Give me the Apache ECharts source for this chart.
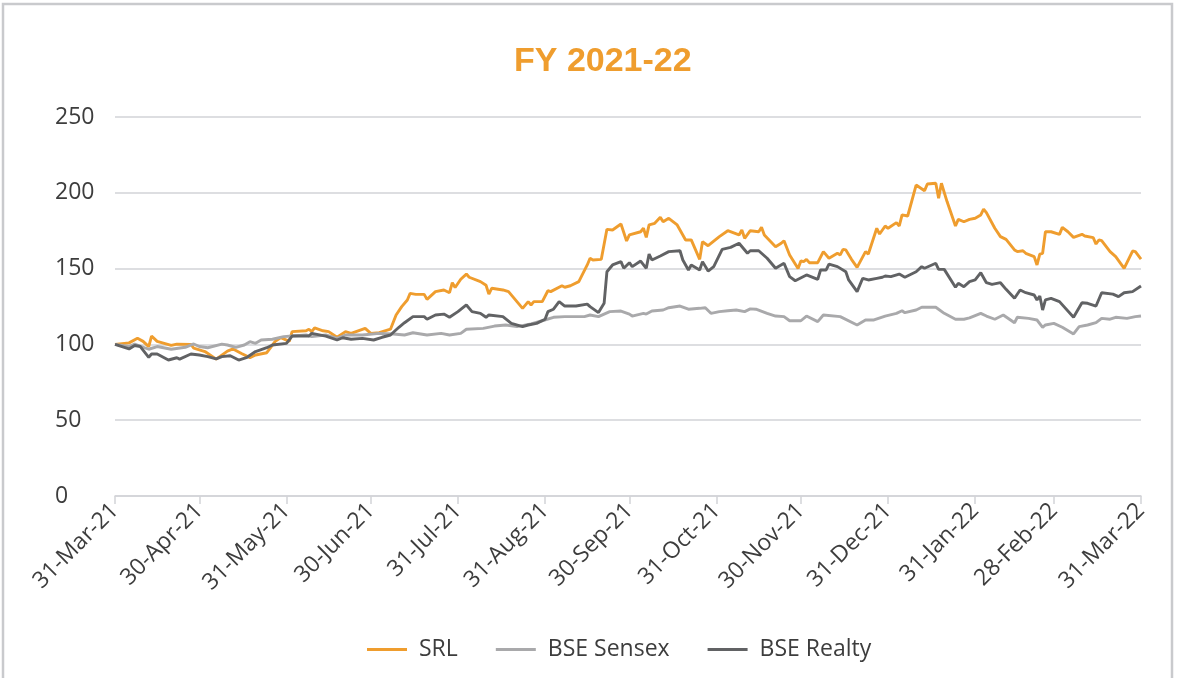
<!DOCTYPE html>
<html>
<head>
<meta charset="utf-8">
<script src="https://cdn.jsdelivr.net/npm/echarts@6/dist/echarts.min.js"></script>
<style>
html,body{margin:0;padding:0;background:#fff;}
#chart{width:1184px;height:678px;}
</style>
</head>
<body>
<div id="chart"></div>
<script>
// ---- Data ----
const titleText = 'FY 2021-22';
const seriesNames = ['SRL', 'BSE Sensex', 'BSE Realty'];
const tickDates = ['2021-03-31','2021-04-30','2021-05-31','2021-06-30','2021-07-31','2021-08-31','2021-09-30','2021-10-31','2021-11-30','2021-12-31','2022-01-31','2022-02-28','2022-03-31'];
const yTicks = [0, 50, 100, 150, 200, 250];

const srlDates = ['2021-03-31','2021-04-05','2021-04-08','2021-04-10','2021-04-12','2021-04-13','2021-04-15','2021-04-20','2021-04-22','2021-04-27','2021-04-28','2021-05-02','2021-05-06','2021-05-10','2021-05-12','2021-05-15','2021-05-18','2021-05-20','2021-05-24','2021-05-27','2021-05-29','2021-06-01','2021-06-02','2021-06-07','2021-06-08','2021-06-09','2021-06-10','2021-06-13','2021-06-15','2021-06-18','2021-06-21','2021-06-23','2021-06-28','2021-06-30','2021-07-03','2021-07-07','2021-07-09','2021-07-11','2021-07-13','2021-07-14','2021-07-16','2021-07-19','2021-07-20','2021-07-23','2021-07-26','2021-07-28','2021-07-29','2021-07-30','2021-08-01','2021-08-03','2021-08-04','2021-08-08','2021-08-10','2021-08-11','2021-08-12','2021-08-16','2021-08-18','2021-08-23','2021-08-25','2021-08-26','2021-08-27','2021-08-30','2021-09-01','2021-09-02','2021-09-06','2021-09-07','2021-09-09','2021-09-12','2021-09-15','2021-09-16','2021-09-17','2021-09-20','2021-09-22','2021-09-24','2021-09-27','2021-09-29','2021-09-30','2021-10-04','2021-10-05','2021-10-06','2021-10-07','2021-10-09','2021-10-11','2021-10-12','2021-10-14','2021-10-17','2021-10-20','2021-10-22','2021-10-25','2021-10-26','2021-10-28','2021-11-01','2021-11-04','2021-11-08','2021-11-09','2021-11-10','2021-11-12','2021-11-15','2021-11-16','2021-11-17','2021-11-21','2021-11-23','2021-11-24','2021-11-26','2021-11-29','2021-11-30','2021-12-01','2021-12-02','2021-12-03','2021-12-06','2021-12-08','2021-12-10','2021-12-13','2021-12-14','2021-12-15','2021-12-16','2021-12-18','2021-12-20','2021-12-23','2021-12-24','2021-12-27','2021-12-28','2021-12-30','2021-12-31','2022-01-03','2022-01-04','2022-01-05','2022-01-07','2022-01-10','2022-01-13','2022-01-14','2022-01-17','2022-01-18','2022-01-19','2022-01-21','2022-01-24','2022-01-25','2022-01-27','2022-01-29','2022-01-31','2022-02-02','2022-02-03','2022-02-04','2022-02-07','2022-02-09','2022-02-11','2022-02-14','2022-02-15','2022-02-17','2022-02-18','2022-02-21','2022-02-22','2022-02-23','2022-02-24','2022-02-25','2022-02-27','2022-03-02','2022-03-03','2022-03-05','2022-03-07','2022-03-10','2022-03-11','2022-03-14','2022-03-15','2022-03-16','2022-03-17','2022-03-20','2022-03-22','2022-03-25','2022-03-28','2022-03-29','2022-03-31'];
const srlValues = [100,101,104,102,98.5,105.5,102,99.3,100.2,100,97.6,95.3,90.3,95.6,97,94,91.3,93,94.5,102,104.5,102,108.4,109,110,108.4,110.9,109,108.4,104.7,108.4,107.3,110.6,107.3,107.7,110,119.4,124.9,129.3,133.7,133,133,129.7,134.8,135.9,134.1,140.7,137.5,143,146.4,144.3,141.4,139,133.2,137,135.9,134.8,123.8,128.2,126,128.2,128.2,135.4,134.8,138.7,137.7,138.7,141.4,152.4,156.8,155.7,156.1,175.9,175.5,179.4,168.2,172.2,174.3,176.6,170.6,178.8,179.9,183.8,180.9,183.2,178.8,168.9,168.9,156.1,167.7,165.1,171.1,175,172.2,175.5,170,175,174.3,177.2,172.2,164.4,166.7,168.4,159,150,155,154.6,156.1,153.9,153.9,161.2,156.8,160.1,159,162.7,162.3,156.1,150.8,161.2,159.6,176.6,172.8,178.1,176.6,180.3,178.1,185.4,184.7,205.1,201.4,205.8,206.3,196.4,206.3,194.2,178.1,182.5,180.9,182.5,183.2,185.4,189.3,186.9,176.6,171.1,169.3,162.3,161.2,161.8,160.1,157.9,152.4,159.6,160.1,174.3,174.3,172.6,177.2,174.3,170.6,172.6,171.5,170.4,166.2,168.9,168.4,161.2,157.9,150.2,161.6,161.2,156.3];

const sensexDates = ['2021-03-31','2021-04-05','2021-04-07','2021-04-12','2021-04-15','2021-04-20','2021-04-25','2021-04-28','2021-04-30','2021-05-03','2021-05-08','2021-05-10','2021-05-13','2021-05-16','2021-05-18','2021-05-20','2021-05-22','2021-05-26','2021-05-30','2021-06-02','2021-06-07','2021-06-09','2021-06-14','2021-06-18','2021-06-21','2021-06-27','2021-07-03','2021-07-08','2021-07-12','2021-07-15','2021-07-20','2021-07-25','2021-07-28','2021-08-01','2021-08-03','2021-08-09','2021-08-13','2021-08-17','2021-08-21','2021-08-26','2021-08-30','2021-09-03','2021-09-07','2021-09-14','2021-09-16','2021-09-19','2021-09-23','2021-09-27','2021-09-30','2021-10-01','2021-10-05','2021-10-06','2021-10-08','2021-10-12','2021-10-14','2021-10-18','2021-10-21','2021-10-25','2021-10-27','2021-10-29','2021-11-01','2021-11-04','2021-11-07','2021-11-10','2021-11-12','2021-11-14','2021-11-18','2021-11-21','2021-11-24','2021-11-26','2021-11-30','2021-12-02','2021-12-06','2021-12-08','2021-12-14','2021-12-20','2021-12-23','2021-12-26','2021-12-30','2022-01-03','2022-01-05','2022-01-06','2022-01-10','2022-01-12','2022-01-17','2022-01-20','2022-01-24','2022-01-27','2022-01-29','2022-02-02','2022-02-04','2022-02-07','2022-02-10','2022-02-14','2022-02-15','2022-02-19','2022-02-22','2022-02-24','2022-02-25','2022-02-28','2022-03-03','2022-03-07','2022-03-09','2022-03-12','2022-03-15','2022-03-17','2022-03-20','2022-03-22','2022-03-26','2022-03-29','2022-03-31'];
const sensexValues = [100,98.6,100.2,96.8,98.6,96.8,98.1,100.3,98.6,97.8,100.2,99.6,98.1,99.6,101.8,100.7,102.9,103.4,105.1,105.5,106.2,105.1,106.2,104,106.2,106.2,107.3,106.9,106.2,107.7,106.2,107.3,106.2,107.3,110,110.6,112.1,112.8,111.7,113.5,115.6,117.9,118.3,118.3,119.4,118.3,121.6,122,120,118.7,120.5,120,122,122.7,124.2,125.3,123.2,123.8,124.2,120.5,121.6,122.2,122.7,121.6,123.4,123.2,120.5,118.7,118.3,115.6,115.6,118.7,115,119.4,118.3,112.8,116.1,116.1,118.7,120.5,122.2,120.9,122.7,124.5,124.5,120.5,116.6,116.6,117.5,120.5,118.7,116.6,119.4,114.3,117.9,117.2,116.1,111.3,112.8,113.9,111.3,106.9,111.7,112.8,114.3,117.2,116.6,117.9,117.2,118.3,118.7];

const realtyDates = ['2021-03-31','2021-04-05','2021-04-07','2021-04-09','2021-04-12','2021-04-13','2021-04-15','2021-04-19','2021-04-22','2021-04-23','2021-04-27','2021-04-30','2021-05-03','2021-05-06','2021-05-08','2021-05-11','2021-05-14','2021-05-17','2021-05-20','2021-05-24','2021-05-26','2021-05-31','2021-06-02','2021-06-08','2021-06-09','2021-06-14','2021-06-18','2021-06-20','2021-06-23','2021-06-27','2021-07-01','2021-07-04','2021-07-07','2021-07-10','2021-07-12','2021-07-15','2021-07-19','2021-07-20','2021-07-23','2021-07-26','2021-07-28','2021-07-31','2021-08-03','2021-08-05','2021-08-08','2021-08-10','2021-08-11','2021-08-16','2021-08-19','2021-08-23','2021-08-25','2021-08-28','2021-08-31','2021-09-01','2021-09-03','2021-09-05','2021-09-07','2021-09-11','2021-09-15','2021-09-16','2021-09-19','2021-09-21','2021-09-22','2021-09-24','2021-09-27','2021-09-28','2021-09-30','2021-10-01','2021-10-04','2021-10-06','2021-10-07','2021-10-08','2021-10-11','2021-10-14','2021-10-18','2021-10-19','2021-10-21','2021-10-22','2021-10-25','2021-10-26','2021-10-28','2021-10-30','2021-11-02','2021-11-05','2021-11-08','2021-11-11','2021-11-12','2021-11-15','2021-11-18','2021-11-21','2021-11-24','2021-11-26','2021-11-28','2021-12-02','2021-12-06','2021-12-07','2021-12-09','2021-12-10','2021-12-13','2021-12-16','2021-12-17','2021-12-20','2021-12-22','2021-12-24','2021-12-27','2021-12-29','2021-12-30','2022-01-01','2022-01-04','2022-01-06','2022-01-10','2022-01-12','2022-01-13','2022-01-17','2022-01-18','2022-01-20','2022-01-24','2022-01-25','2022-01-27','2022-01-29','2022-01-31','2022-02-02','2022-02-04','2022-02-06','2022-02-09','2022-02-11','2022-02-14','2022-02-16','2022-02-18','2022-02-21','2022-02-22','2022-02-23','2022-02-24','2022-02-25','2022-02-27','2022-03-02','2022-03-07','2022-03-10','2022-03-12','2022-03-15','2022-03-17','2022-03-21','2022-03-23','2022-03-25','2022-03-28','2022-03-31'];
const realtyValues = [100,97,99.3,98.6,91.5,93.7,93.7,89.7,91.2,90.3,93.7,93,91.9,90.4,91.9,92.5,89.7,91.5,95.3,97.8,99.6,100.7,105.5,105.5,107.3,105.5,102.9,104.4,103.4,104,102.9,104.7,106.2,111.3,114.3,118.3,118.3,116.6,119.4,120,117.9,121.6,126,121.6,120.5,117.9,119.4,118.3,113.9,111.7,112.8,113.9,116.6,121.6,123.2,128.2,125.3,125.3,126.6,124.9,121,127.1,147.9,152.4,154.6,150.2,153.9,151.3,155,150.2,159.6,155.7,158.3,161.2,161.8,155.7,149.1,152.4,149.1,154.6,148.4,151.3,162.7,164,166.7,160.1,161.8,161.8,156.8,150.2,153.5,144.7,142,145.8,142.9,149.1,149.1,153,151.3,147.9,142.5,134.8,143.6,142.5,143.6,144.3,145.1,144.7,146.4,144.3,147.9,151.3,150.2,153.5,149.5,149.5,137.7,140.3,138.1,141.4,142.5,147.3,140.7,139.6,140.7,136.3,130.4,135.9,134.1,132.6,129.3,131.9,122.7,129.3,130.4,128.2,117.9,127.5,127.1,125.3,134.1,133.2,131.5,134.1,134.8,138.5];

// ---- Build calendar category axis ----
function pad(n){ return (n < 10 ? '0' : '') + n; }
function buildDays(startStr, endStr){
  const s = startStr.split('-').map(Number), e = endStr.split('-').map(Number);
  let t = Date.UTC(s[0], s[1]-1, s[2]);
  const end = Date.UTC(e[0], e[1]-1, e[2]);
  const out = [];
  while (t <= end) {
    const d = new Date(t);
    out.push(d.getUTCFullYear() + '-' + pad(d.getUTCMonth()+1) + '-' + pad(d.getUTCDate()));
    t += 86400000;
  }
  return out;
}
const days = buildDays(tickDates[0], tickDates[tickDates.length-1]);
const tickSet = new Set(tickDates);
const MONTHS = ['Jan','Feb','Mar','Apr','May','Jun','Jul','Aug','Sep','Oct','Nov','Dec'];
function fmtDate(v){
  const p = v.split('-');
  return p[2] + '-' + MONTHS[Number(p[1])-1] + '-' + p[0].slice(2);
}
function pairs(dates, vals){ return dates.map((d,i)=>[d, vals[i]]); }

const FONT = 'Open Sans';
const TEXT = '#3d3d3d';
const GRIDC = '#d2d3d7';

const chart = echarts.init(document.getElementById('chart'), null, {renderer:'canvas'});
chart.setOption({
  animation: false,
  backgroundColor: '#ffffff',
  graphic: [{
    type: 'rect', silent: true, z: -1,
    shape: {x: 3, y: 4, width: 1169, height: 700},
    style: {fill: 'none', stroke: '#c9cacd', lineWidth: 2.5}
  }],
  title: {
    text: titleText,
    left: 509, top: 40,
    textStyle: {color: '#EF9D2E', fontSize: 34, fontWeight: 'bold', fontFamily: 'Liberation Sans'}
  },
  legend: {
    data: seriesNames,
    left: 362, top: 633,
    icon: 'rect', itemWidth: 40, itemHeight: 3, itemGap: 38,
    textStyle: {fontSize: 23, color: TEXT, fontFamily: FONT, padding: [0,0,0,7]}
  },
  grid: {left: 115, right: 43, top: 117, bottom: 182, containLabel: false},
  xAxis: {
    type: 'category',
    data: days,
    boundaryGap: false,
    axisLine: {lineStyle: {color: GRIDC, width: 1.5}},
    axisTick: {show: true, length: 8, interval: (i, v) => tickSet.has(v), lineStyle: {color: GRIDC, width: 1.5}},
    axisLabel: {
      interval: (i, v) => tickSet.has(v),
      rotate: 45, margin: 11,
      formatter: fmtDate,
      fontSize: 23, color: TEXT, fontFamily: FONT
    },
    splitLine: {show: false}
  },
  yAxis: {
    type: 'value', min: yTicks[0], max: yTicks[yTicks.length-1], interval: yTicks[1]-yTicks[0],
    axisLine: {show: false}, axisTick: {show: false},
    axisLabel: {align: 'left', margin: 60, fontSize: 23, color: TEXT, fontFamily: FONT},
    splitLine: {lineStyle: {color: GRIDC, width: 1.5}}
  },
  series: [
    {name: seriesNames[0], type: 'line', data: pairs(srlDates, srlValues), showSymbol: false, symbol: 'none',
     lineStyle: {color: '#EF9D2E', width: 2.9}, itemStyle: {color: '#EF9D2E'}, z: 2},
    {name: seriesNames[1], type: 'line', data: pairs(sensexDates, sensexValues), showSymbol: false, symbol: 'none',
     lineStyle: {color: '#A9A9AB', width: 2.9}, itemStyle: {color: '#A9A9AB'}, z: 3},
    {name: seriesNames[2], type: 'line', data: pairs(realtyDates, realtyValues), showSymbol: false, symbol: 'none',
     lineStyle: {color: '#616264', width: 2.9}, itemStyle: {color: '#616264'}, z: 4}
  ]
});
</script>
</body>
</html>
